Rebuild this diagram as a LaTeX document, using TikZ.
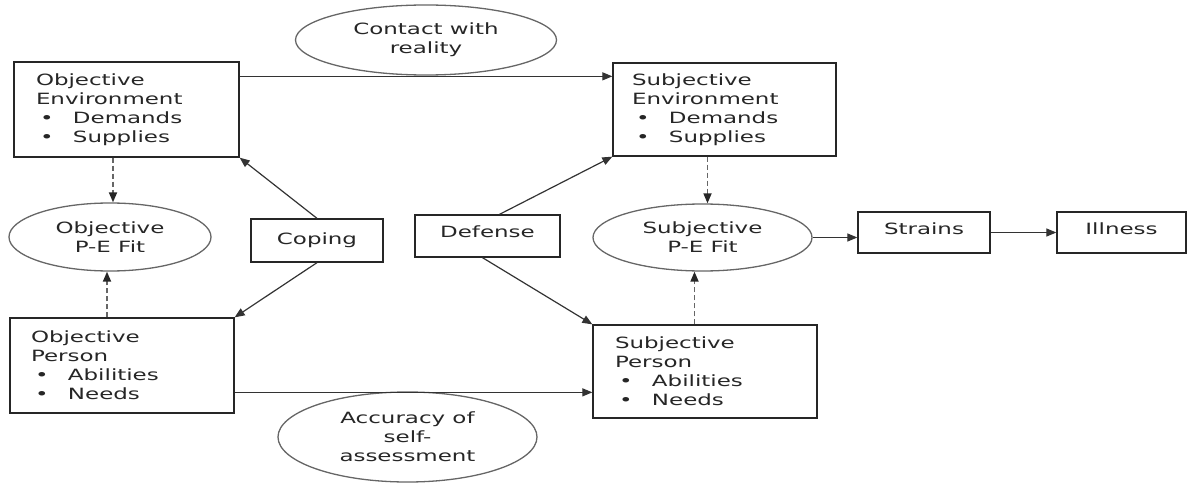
\documentclass[tikz,border=0pt]{standalone}
\usepackage{fontspec}
\setmainfont{DejaVu Sans}[FakeStretch=1.48]
\usetikzlibrary{shapes.geometric,arrows.meta,calc}
\newcommand\bitem[1]{\hspace*{4pt}\makebox[33pt][l]{•}#1}
\begin{document}
\begin{tikzpicture}[x=1pt,y=-1pt,
  every node/.style={font=\fontsize{15.5}{19}\selectfont, text=black!85},
  mbox/.style={draw=black!85, line width=1.3pt, rectangle, align=left, inner ysep=0pt},
  sbox/.style={draw=black!85, line width=1.3pt, rectangle, inner sep=0pt, align=center},
  ell/.style={draw=black!60, line width=1.3pt, ellipse, inner sep=0pt, align=center},
  arr/.style={draw=black!80, line width=1.2pt, -{Triangle[length=10pt,width=8pt]}},
  darr/.style={draw=black!60, line width=1.7pt, dash pattern=on 5pt off 3pt,
    -{Triangle[length=10pt,width=8pt,color=black!85]}}
  ]
\useasboundingbox (0,0) rectangle (1188,484);
% boxes
\node[mbox, text width=181pt, inner xsep=22pt, minimum height=95pt] (oe) at (126.5,109.5)
  {Objective\\Environment\\\bitem{Demands}\\\bitem{Supplies}};
\node[mbox, text width=185pt, inner xsep=19pt, minimum height=93pt] (se) at (724.5,109.5)
  {Subjective\\Environment\\\bitem{Demands}\\\bitem{Supplies}};
\node[mbox, text width=182pt, inner xsep=21pt, minimum height=95pt] (op) at (122,365.5)
  {Objective\\Person\\\bitem{Abilities}\\\bitem{Needs}};
\node[mbox, text width=180pt, inner xsep=22pt, minimum height=93pt] (sp) at (705,371.5)
  {Subjective\\Person\\\bitem{Abilities}\\\bitem{Needs}};
\node[sbox, minimum width=132pt, minimum height=43pt] (coping) at (317,240.5) {Coping};
\node[sbox, minimum width=145pt, minimum height=42pt, text depth=8pt] (defense) at (487.5,236) {Defense};
\node[sbox, minimum width=132pt, minimum height=41pt, text depth=8pt] (strains) at (924,232.5) {Strains};
\node[sbox, minimum width=129pt, minimum height=41pt, text depth=8pt] (illness) at (1121.5,232.5) {Illness};
% ellipses
\node[ell, minimum width=261pt, minimum height=70pt] (contact) at (426,40) {Contact with\\reality};
\node[ell, minimum width=202pt, minimum height=68pt] (ope) at (110,237) {Objective\\P-E Fit};
\node[ell, minimum width=219pt, minimum height=67pt] (spe) at (702.5,237.5) {Subjective\\P-E Fit};
\node[ell, minimum width=259pt, minimum height=90pt] (acc) at (407.5,437) {Accuracy of\\self-\\assessment};
% connectors
\coordinate (a1) at ($(oe.north east)+(0,15)$);
\draw[arr] (a1) -- (a1 -| se.west);
\coordinate (a2) at ($(op.north east)+(0,75)$);
\draw[arr] (a2) -- (a2 -| sp.west);
\draw[arr] (coping.north) -- (oe.south east);
\draw[arr] (coping.south) -- (op.north east);
\draw[arr] ($(defense.north)+(12,0)$) -- (se.south west);
\draw[arr] ($(defense.south)+(-5,0)$) -- (sp.north west);
\draw[darr] ($(ope.north |- oe.south)+(3,0)$) -- ($(ope.north)+(3,0)$);
\draw[darr] ($(ope.south |- op.north)+(-3,0)$) -- ($(ope.south)+(-3,0)$);
\draw[darr] ($(spe.north |- se.south)+(5,0)$) -- ($(spe.north)+(5,0)$);
\draw[darr] ($(spe.south |- sp.north)+(-8,0)$) -- ($(spe.south)+(-8,0)$);
\draw[arr] (spe.east) -- (spe.east -| strains.west);
\draw[arr] (strains.east) -- (illness.west);
\end{tikzpicture}
\end{document}
